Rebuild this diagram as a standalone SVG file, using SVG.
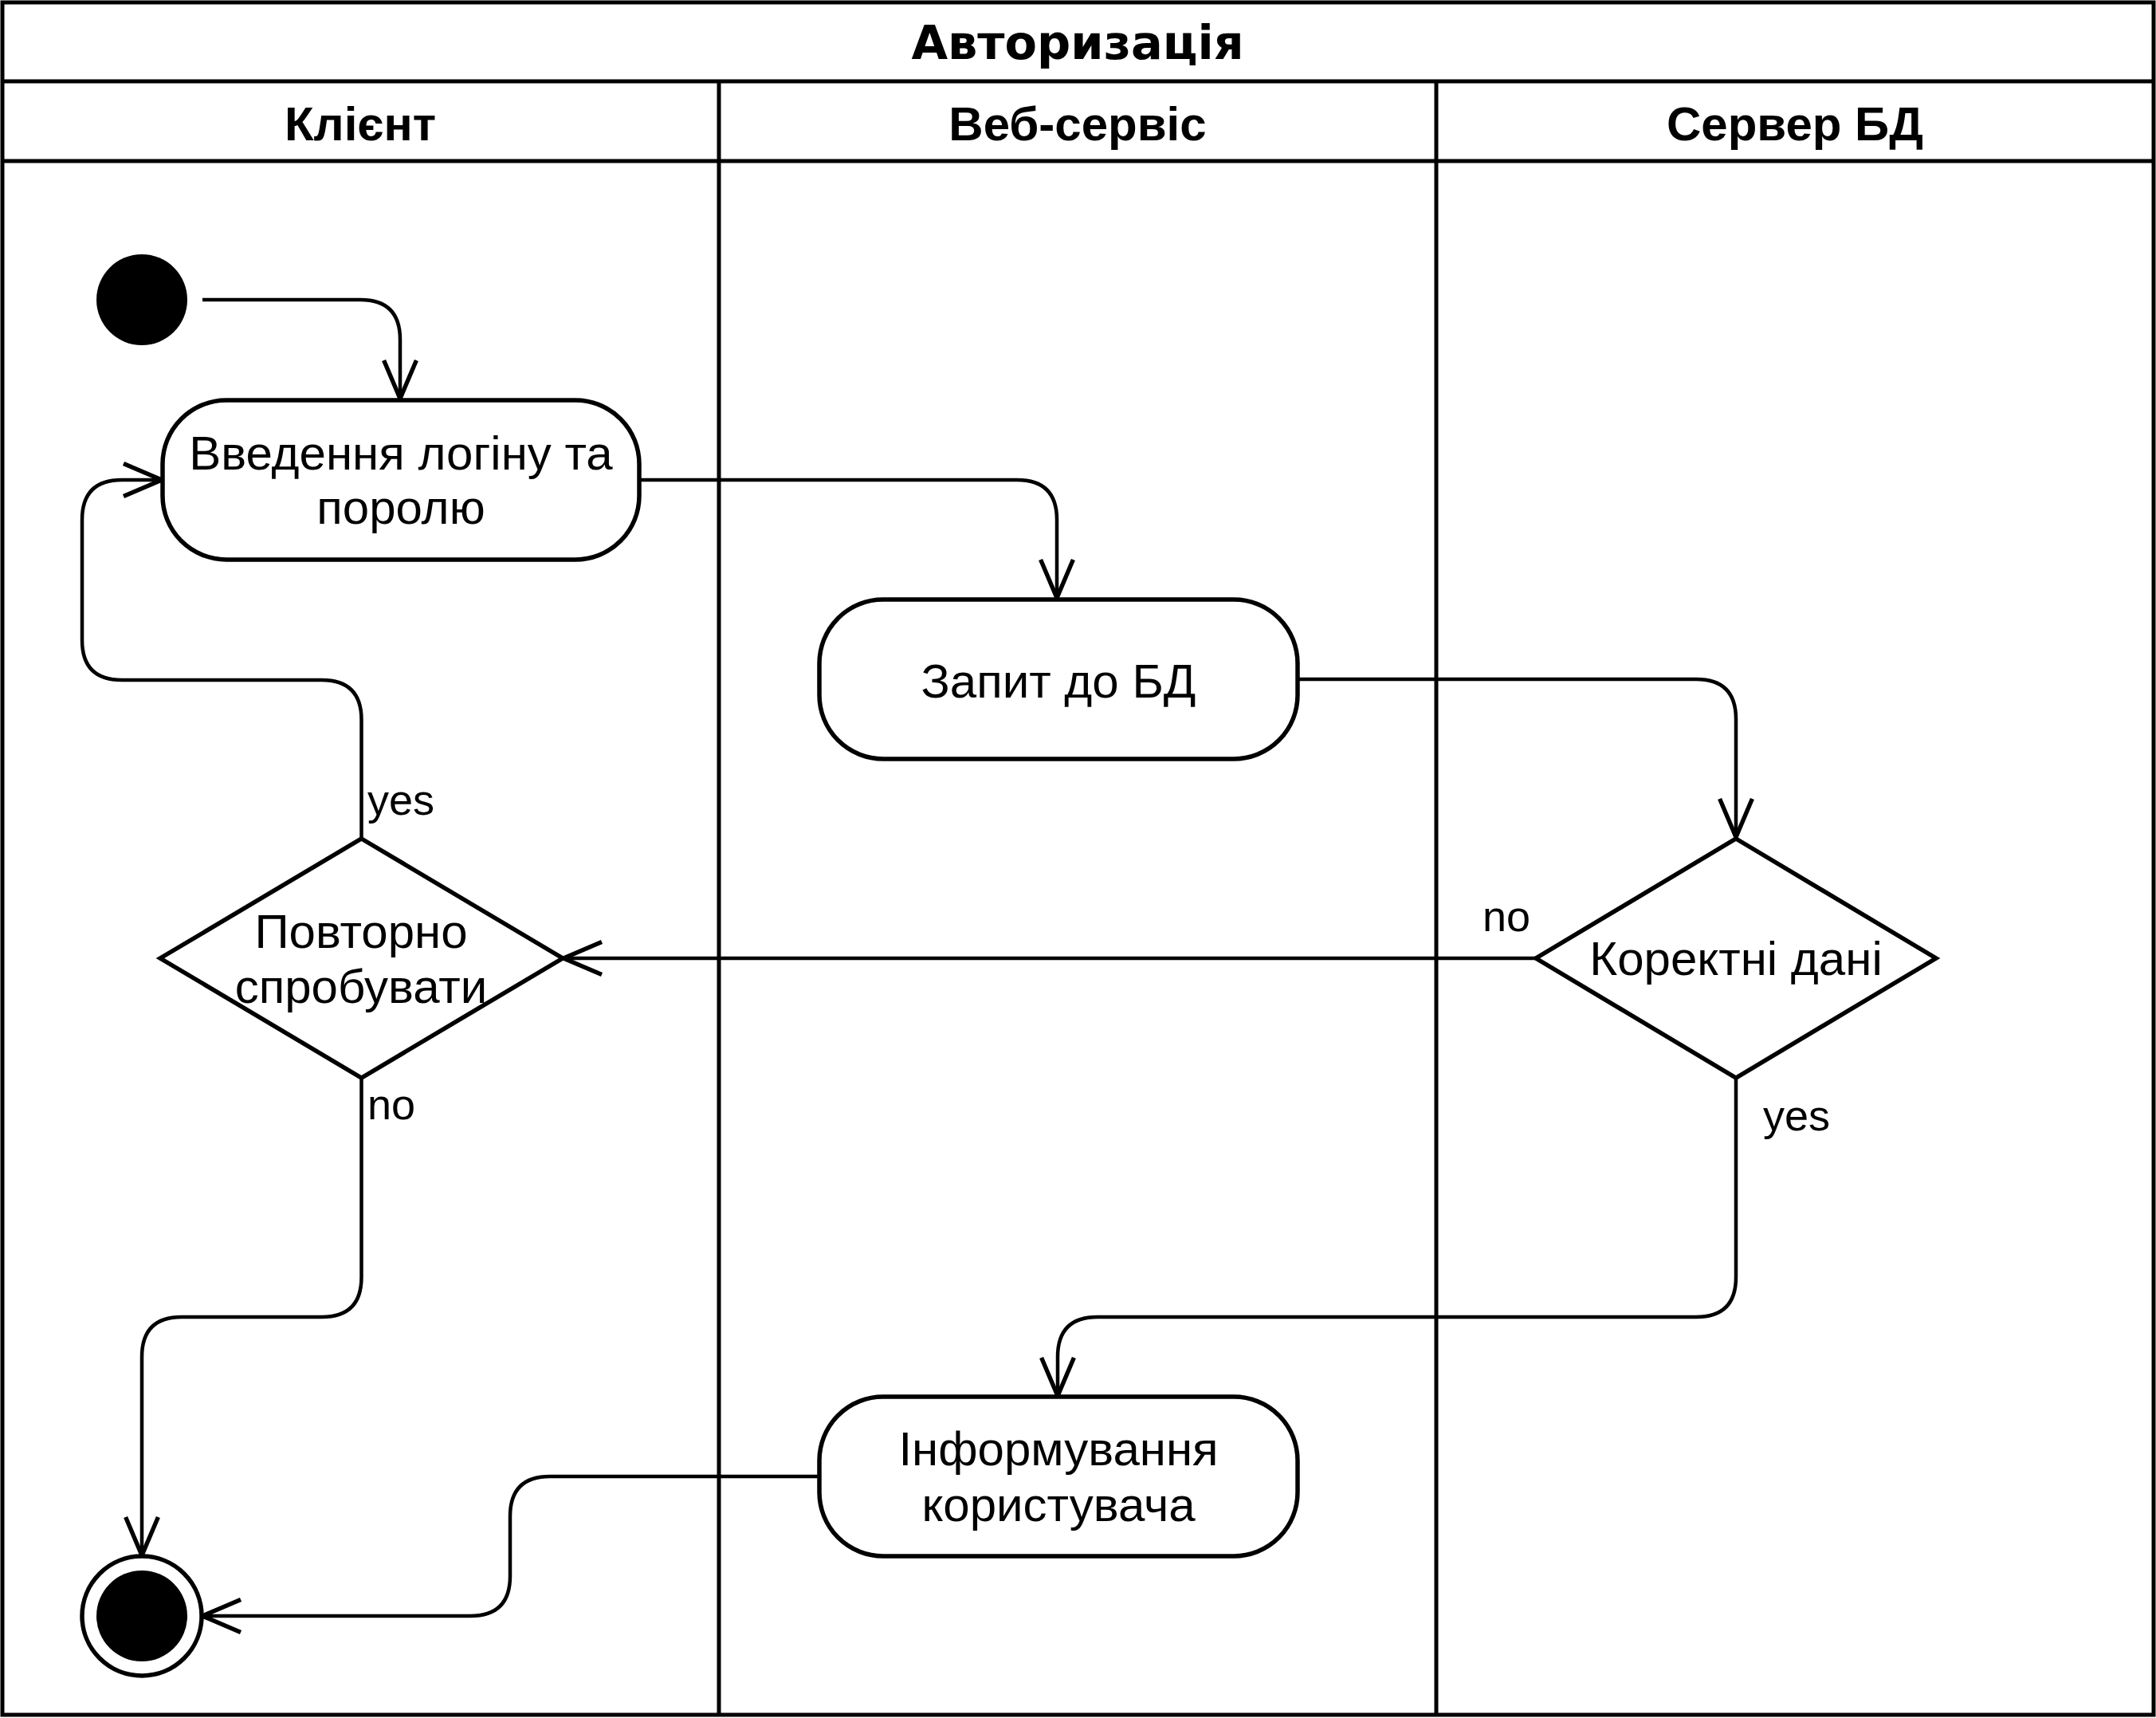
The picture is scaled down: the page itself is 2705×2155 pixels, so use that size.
<svg xmlns="http://www.w3.org/2000/svg" width="2705" height="2155" viewBox="0 0 2705 2155">
<style>
.frame{fill:none;stroke:#000;stroke-width:5}
.shape{fill:#fff;stroke:#000;stroke-width:5.5}
.edge{fill:none;stroke:#000;stroke-width:4.5}
.t{font-family:"Liberation Sans",Arial,sans-serif;font-size:60px;fill:#000}
.h{font-family:"Liberation Sans",Arial,sans-serif;font-size:60px;font-weight:bold;fill:#000;text-anchor:middle}
.title{font-family:"DejaVu Sans",Verdana,sans-serif;font-size:59px;font-weight:bold;fill:#000;text-anchor:middle}
.c{text-anchor:middle}
.lbl{font-family:"Liberation Sans",Arial,sans-serif;font-size:54px;fill:#000}
</style>
<defs>
<marker id="arr" markerUnits="userSpaceOnUse" markerWidth="60" markerHeight="60" refX="0" refY="0" viewBox="-45 -25 50 50" orient="auto" overflow="visible">
<path d="M-40,-17 L0,0 L-40,17" fill="none" stroke="#000" stroke-width="4.5"/>
</marker>
</defs>
<g id="pool">
<rect class="frame" x="3" y="3" width="2699" height="2148"/>
<line class="frame" x1="3" y1="102" x2="2702" y2="102"/>
<line class="frame" x1="3" y1="202" x2="2702" y2="202"/>
<line class="frame" x1="902" y1="102" x2="902" y2="2151"/>
<line class="frame" x1="1802" y1="102" x2="1802" y2="2151"/>
<text class="title" x="1352" y="74">Авторизація</text>
<text class="h" x="452" y="176">Клієнт</text>
<text class="h" x="1352" y="176">Веб-сервіс</text>
<text class="h" x="2252" y="176">Сервер БД</text>
</g>
<g id="connectors">
<path class="edge" marker-end="url(#arr)" d="M254,376 L452,376 Q502,376 502,426 L502,500"/>
<path class="edge" marker-end="url(#arr)" d="M802,602 L1276,602 Q1326,602 1326,652 L1326,750"/>
<path class="edge" marker-end="url(#arr)" d="M1628,852 L2128,852 Q2178,852 2178,902 L2178,1050"/>
<path class="edge" marker-end="url(#arr)" d="M1928,1202 L707,1202"/>
<path class="edge" marker-end="url(#arr)" d="M453.5,1052 L453.5,903 Q453.5,853 403.5,853 L153,853 Q103,853 103,803 L103,652 Q103,602 153,602 L203,602"/>
<path class="edge" marker-end="url(#arr)" d="M453.5,1352 L453.5,1602 Q453.5,1652 403.5,1652 L228,1652 Q178,1652 178,1702 L178,1951"/>
<path class="edge" marker-end="url(#arr)" d="M2178,1352 L2178,1602 Q2178,1652 2128,1652 L1377,1652 Q1327,1652 1327,1702 L1327,1751"/>
<path class="edge" marker-end="url(#arr)" d="M1028,1852 L690,1852 Q640,1852 640,1902 L640,1977 Q640,2027 590,2027 L254,2027"/>
<text class="lbl" x="461" y="1022">yes</text>
<text class="lbl" x="461" y="1404">no</text>
<text class="lbl" x="1860" y="1168">no</text>
<text class="lbl" x="2212" y="1418">yes</text>
</g>
<g id="start">
<circle cx="178" cy="376" r="57" fill="#000"/>
</g>
<g id="enter-login">
<rect class="shape" x="204" y="502" width="598" height="200" rx="80" ry="80"/>
<text class="t c" x="503" y="589">Введення логіну та</text>
<text class="t c" x="503" y="657">поролю</text>
</g>
<g id="db-request">
<rect class="shape" x="1028" y="752" width="600" height="200" rx="80" ry="80"/>
<text class="t c" x="1328" y="875">Запит до БД</text>
</g>
<g id="retry">
<polygon class="shape" points="453.5,1052 706,1202 453.5,1352 201,1202"/>
<text class="t c" x="453" y="1189">Повторно</text>
<text class="t c" x="453" y="1258">спробувати</text>
</g>
<g id="valid-data">
<polygon class="shape" points="2178,1052 2429,1202 2178,1352 1927,1202"/>
<text class="t c" x="2178" y="1223">Коректні дані</text>
</g>
<g id="inform-user">
<rect class="shape" x="1028" y="1752" width="600" height="200" rx="80" ry="80"/>
<text class="t c" x="1328" y="1838">Інформування</text>
<text class="t c" x="1328" y="1908">користувача</text>
</g>
<g id="end">
<circle cx="178" cy="2027" r="75" fill="#fff" stroke="#000" stroke-width="5.5"/>
<circle cx="178" cy="2027" r="57" fill="#000"/>
</g>
</svg>
